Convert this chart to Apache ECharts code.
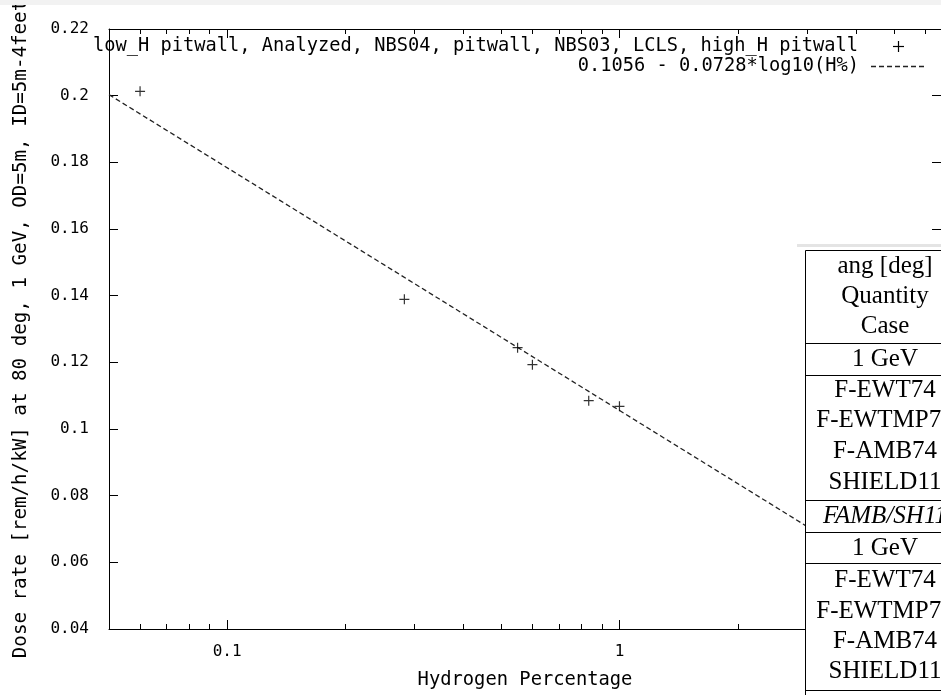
<!DOCTYPE html>
<html>
<head>
<meta charset="utf-8">
<script src="https://cdn.jsdelivr.net/npm/echarts@6/dist/echarts.min.js"></script>
<style>
html,body{margin:0;padding:0;background:#fff;}
#c{width:941px;height:695px;}
</style>
</head>
<body>
<div id="c"></div>
<script>
// ---- data ----
const hydrogenPct = [0.06, 0.283, 0.55, 0.6, 0.835, 1.0];
const doseRate    = [0.2013, 0.1389, 0.1244, 0.1193, 0.1085, 0.1068];
const fitX = [0.05, 6.6];
const fitY = [0.2003, 0.0459];
const xMajorTicks = [0.1, 1];
const xTickLabels = ['0.1', '1'];
const xMinorTicks = [0.06, 0.07, 0.08, 0.09, 0.2, 0.3, 0.4, 0.5, 0.6, 0.7, 0.8, 0.9, 2, 3, 4, 5, 6];
const dataName = 'low_H pitwall, Analyzed, NBS04, pitwall, NBS03, LCLS, high_H pitwall';
const fitName = '0.1056 - 0.0728*log10(H%)';
const xTitle = 'Hydrogen Percentage';
const yTitle = 'Dose rate [rem/h/kW] at 80 deg, 1 GeV, OD=5m, ID=5m-4feet';
const tableText = ['ang [deg]', 'Quantity', 'Case', '1 GeV', 'F-EWT74', 'F-EWTMP74', 'F-AMB74', 'SHIELD11',
                   'FAMB/SH11', '1 GeV', 'F-EWT74', 'F-EWTMP74', 'F-AMB74', 'SHIELD11'];
const tableItalic = [false, false, false, false, false, false, false, false, true, false, false, false, false, false];

// ---- layout ----
const MONO = '"DejaVu Sans Mono", monospace';
const SERIF = '"Liberation Serif", "Times New Roman", serif';
const tableTextY = [266, 296, 326, 359, 390, 420, 451, 482, 516, 548, 580, 611, 641, 671];
const tableRuleY = [343, 375, 500, 532, 563, 690];

const chart = echarts.init(document.getElementById('c'), null, {renderer: 'canvas'});

const graphics = [];
graphics.push({type: 'rect', z: 100, shape: {x: 0, y: 0, width: 941, height: 5}, style: {fill: '#f2f2f2'}});
// legend
graphics.push({type: 'text', z: 100, style: {text: dataName, x: 858, y: 46, align: 'right', verticalAlign: 'middle',
  textAlign: 'right', textVerticalAlign: 'middle', font: '18.7px ' + MONO, fill: '#000'}});
graphics.push({type: 'line', z: 100, shape: {x1: 893, y1: 46.5, x2: 904, y2: 46.5}, style: {stroke: '#000', lineWidth: 1.2}});
graphics.push({type: 'line', z: 100, shape: {x1: 898.5, y1: 41, x2: 898.5, y2: 52}, style: {stroke: '#000', lineWidth: 1.2}});
graphics.push({type: 'text', z: 100, style: {text: fitName, x: 859, y: 66, align: 'right', verticalAlign: 'middle',
  textAlign: 'right', textVerticalAlign: 'middle', font: '18.7px ' + MONO, fill: '#000'}});
graphics.push({type: 'line', z: 100, shape: {x1: 871, y1: 66.5, x2: 927, y2: 66.5},
  style: {stroke: '#222', lineWidth: 1.3, lineDash: [5, 3]}});
// table overlay
graphics.push({type: 'rect', z: 200, shape: {x: 797, y: 244, width: 150, height: 3}, style: {fill: '#e4e4e4'}});
graphics.push({type: 'rect', z: 200, shape: {x: 805.5, y: 250.5, width: 200, height: 500},
  style: {fill: '#fff', stroke: '#000', lineWidth: 1}});
tableRuleY.forEach(y => graphics.push({type: 'line', z: 201, shape: {x1: 805, y1: y + 0.5, x2: 960, y2: y + 0.5},
  style: {stroke: '#000', lineWidth: 1}}));
tableText.forEach((t, i) => graphics.push({type: 'text', z: 202, style: {text: t, x: 885, y: tableTextY[i],
  align: 'center', verticalAlign: 'middle', textAlign: 'center', textVerticalAlign: 'middle',
  font: (tableItalic[i] ? 'italic ' : '') + '25px ' + SERIF, fill: '#000'}}));

const option = {
  animation: false,
  backgroundColor: '#fff',
  grid: {left: 109, top: 29, width: 840, height: 608, containLabel: false},
  xAxis: [
    {type: 'log', logBase: 10, min: 0.05, max: 6.6, position: 'bottom',
     name: xTitle, nameLocation: 'middle', nameGap: 42,
     nameTextStyle: {fontFamily: MONO, fontSize: 18.8, color: '#000'},
     axisLine: {show: true, lineStyle: {color: '#000', width: 1}},
     axisTick: {show: false},
     splitLine: {show: false},
     axisLabel: {show: true, showMinLabel: false, showMaxLabel: false, margin: 15,
       fontFamily: MONO, fontSize: 16, color: '#000',
       formatter: function (v) {
         const i = xMajorTicks.findIndex(t => Math.abs(t - v) / t < 1e-6);
         return i >= 0 ? xTickLabels[i] : '';
       }}},
    {type: 'log', logBase: 10, min: 0.05, max: 6.6, position: 'top',
     axisLine: {show: true, lineStyle: {color: '#000', width: 1}},
     axisTick: {show: false}, axisLabel: {show: false}, splitLine: {show: false}}
  ],
  yAxis: [
    {type: 'value', min: 0.04, max: 0.22, interval: 0.02, position: 'left',
     name: yTitle, nameLocation: 'middle', nameRotate: 90, nameGap: 78,
     nameTextStyle: {fontFamily: MONO, fontSize: 19.2, color: '#000'},
     axisLine: {show: true, lineStyle: {color: '#000', width: 1}},
     axisTick: {show: true, inside: true, length: 9, lineStyle: {color: '#000', width: 1}},
     splitLine: {show: false},
     axisLabel: {margin: 20, fontFamily: MONO, fontSize: 16, color: '#000'}},
    {type: 'value', min: 0.04, max: 0.22, interval: 0.02, position: 'right',
     axisLine: {show: true, lineStyle: {color: '#000', width: 1}},
     axisTick: {show: true, inside: true, length: 9, lineStyle: {color: '#000', width: 1}},
     splitLine: {show: false}, axisLabel: {show: false}}
  ],
  series: [
    {
      name: 'ticks', type: 'custom', xAxisIndex: 0, yAxisIndex: 0, silent: true, clip: false, z: 5,
      data: xMajorTicks.map(v => [v, 9]).concat(xMinorTicks.map(v => [v, 5])),
      renderItem: function (params, api) {
        const v = api.value(0), len = api.value(1);
        const x = Math.round(api.coord([v, 0.1])[0]) + 0.5;
        const cs = params.coordSys;
        const yb = cs.y + cs.height, yt = cs.y;
        return {type: 'group', children: [
          {type: 'line', shape: {x1: x, y1: yb, x2: x, y2: yb - len}, style: {stroke: '#000', lineWidth: 1}},
          {type: 'line', shape: {x1: x, y1: yt, x2: x, y2: yt + len}, style: {stroke: '#000', lineWidth: 1}}
        ]};
      }
    },
    {
      name: fitName, type: 'line', xAxisIndex: 0, yAxisIndex: 0, showSymbol: false, symbol: 'none', z: 3,
      data: fitX.map((x, i) => [x, fitY[i]]),
      lineStyle: {color: '#222', width: 1.3, type: [5, 3]}
    },
    {
      name: dataName, type: 'scatter', xAxisIndex: 0, yAxisIndex: 0, z: 4,
      data: hydrogenPct.map((x, i) => [x, doseRate[i]]),
      symbol: 'path://M0,5L10,5M5,0L5,10', symbolSize: 10,
      itemStyle: {color: '#000', borderColor: '#000', borderWidth: 1.2}
    }
  ],
  graphic: {elements: graphics}
};
chart.setOption(option);
</script>
</body>
</html>
